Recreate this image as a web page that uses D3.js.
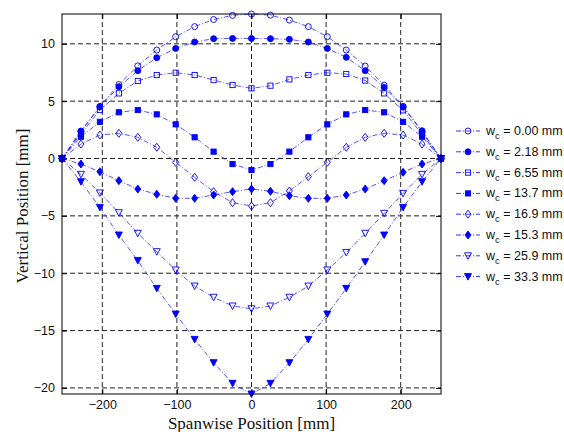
<!DOCTYPE html>
<meta charset="utf-8">
<style>
body { margin: 0; background: #fff; }
text { font-family: "Liberation Sans", Arial, sans-serif; }
.grid line { stroke: #222; stroke-dasharray: 5,3; stroke-width: 1; }
</style>
<svg width="564" height="432"></svg>
<script src="https://cdn.jsdelivr.net/npm/d3@7"></script>
<script>
// spanwise stations (mm)
var spanPos = [-254, -228.6, -203.2, -177.8, -152.4, -127, -101.6, -76.2, -50.8, -25.4, 0,
               25.4, 50.8, 76.2, 101.6, 127, 152.4, 177.8, 203.2, 228.6, 254];

var wc000 = [0, 2.35, 4.55, 6.45, 8.08, 9.46, 10.62, 11.5, 12.12, 12.48, 12.6, 12.5, 12.07, 11.5, 10.62, 9.46, 8.06, 6.4, 4.55, 2.3, 0];
var wc218 = [0, 2.4, 4.5, 6.26, 7.66, 8.79, 9.6, 10.16, 10.45, 10.47, 10.47, 10.45, 10.39, 10.16, 9.6, 8.82, 7.66, 6.2, 4.5, 2.42, 0];
var wc655 = [0, 2.15, 4.23, 5.68, 6.76, 7.28, 7.48, 7.28, 6.84, 6.41, 6.12, 6.35, 6.9, 7.28, 7.48, 7.37, 6.8, 5.68, 4.2, 2.1, 0];
var wc137 = [0, 1.9, 3.2, 4.03, 4.23, 3.85, 2.98, 1.85, 0.6, -0.48, -1.0, -0.48, 0.6, 1.85, 2.98, 3.85, 4.23, 4.03, 3.2, 1.9, 0];
var wc169 = [0, 1.26, 2.05, 2.2, 1.85, 0.98, -0.33, -1.64, -2.89, -3.85, -4.14, -3.85, -2.83, -1.58, -0.33, 0.98, 1.85, 2.2, 2.05, 1.26, 0];
var wc153 = [0, -0.48, -1.15, -1.93, -2.66, -3.12, -3.47, -3.47, -3.18, -2.89, -2.66, -2.86, -3.24, -3.47, -3.47, -3.18, -2.66, -1.93, -1.2, -0.48, 0];
var wc259 = [0, -1.38, -3.0, -4.72, -6.52, -8.12, -9.72, -11.12, -12.1, -12.86, -13.1, -12.86, -12.1, -11.12, -9.72, -8.2, -6.52, -4.78, -3.04, -1.38, 0];
var wc333 = [0, -2.02, -4.26, -6.67, -8.9, -11.32, -13.56, -15.77, -17.8, -19.6, -20.53, -19.6, -17.8, -15.77, -13.56, -11.32, -9.0, -6.67, -4.26, -2.02, 0];

var labels  = ["0.00", "2.18", "6.55", "13.7", "16.9", "15.3", "25.9", "33.3"];
var markers = ["circleOpen", "circle", "squareOpen", "square", "diamondOpen", "diamond", "triOpen", "tri"];
var xTicks = [-200, -100, 0, 100, 200];
var yTicks = [-20, -15, -10, -5, 0, 5, 10];

var allSeries = [wc000, wc218, wc655, wc137, wc169, wc153, wc259, wc333];

var svg = d3.select("svg");
var pL = 62, pR = 441, pT = 14, pB = 394;
var blue = "#0000ff";

var x = d3.scaleLinear().domain([-254, 254]).range([pL, pR]);
var allY = d3.merge(allSeries);
var y = d3.scaleLinear().domain([d3.min(allY), d3.max(allY)]).range([pB, pT]);

// grid
var grid = svg.append("g").attr("class", "grid");
grid.selectAll(".gx").data(xTicks).enter().append("line")
    .attr("x1", d => x(d)).attr("x2", d => x(d)).attr("y1", pT).attr("y2", pB);
grid.selectAll(".gy").data(yTicks).enter().append("line")
    .attr("x1", pL).attr("x2", pR).attr("y1", d => y(d)).attr("y2", d => y(d));

// axes (ticks inside, like matlab)
function minus(v) { return v < 0 ? "\u2212" + Math.abs(v) : "" + v; }
svg.append("g").attr("transform", "translate(0," + pB + ")")
    .call(d3.axisBottom(x).tickValues(xTicks).tickSize(-5).tickPadding(6).tickFormat(minus));
svg.append("g").attr("transform", "translate(" + pL + ",0)")
    .call(d3.axisLeft(y).tickValues(yTicks).tickSize(-5).tickPadding(7).tickFormat(minus));
svg.append("g").attr("transform", "translate(0," + pT + ")")
    .call(d3.axisTop(x).tickValues(xTicks).tickSize(-5).tickFormat(""));
svg.append("g").attr("transform", "translate(" + pR + ",0)")
    .call(d3.axisRight(y).tickValues(yTicks).tickSize(-5).tickFormat(""));
svg.selectAll(".domain").remove();
svg.selectAll(".tick line").attr("stroke", "#000");
svg.selectAll(".tick text").style("font-size", "12.5px").attr("fill", "#111");

// series
var line = d3.line().x((d, i) => x(spanPos[i])).y(d => y(d));

function drawMarker(g, kind, cx, cy) {
  var open = kind.indexOf("Open") > 0;
  var m;
  if (kind.indexOf("circle") == 0) {
    m = g.append("circle").attr("cx", cx).attr("cy", cy).attr("r", 3);
  } else if (kind.indexOf("square") == 0) {
    m = g.append("rect").attr("x", cx - 2.6).attr("y", cy - 2.6).attr("width", 5.2).attr("height", 5.2);
  } else if (kind.indexOf("diamond") == 0) {
    m = g.append("path").attr("d", "M" + cx + "," + (cy - 4) + "L" + (cx + 3) + "," + cy + "L" + cx + "," + (cy + 4) + "L" + (cx - 3) + "," + cy + "Z");
  } else {
    m = g.append("path").attr("d", "M" + (cx - 3.5) + "," + (cy - 3) + "L" + (cx + 3.5) + "," + (cy - 3) + "L" + cx + "," + (cy + 3.5) + "Z");
  }
  m.attr("fill", open ? "none" : blue).attr("stroke", blue).attr("stroke-width", 0.9);
}

allSeries.forEach(function(s, k) {
  var g = svg.append("g");
  g.append("path").datum(s).attr("d", line)
    .attr("fill", "none").attr("stroke", blue).attr("stroke-width", 0.8)
    .attr("stroke-dasharray", "5,2,1,2").attr("opacity", 0.85);
  s.forEach(function(v, i) { drawMarker(g, markers[k], x(spanPos[i]), y(v)); });
});

// box
svg.append("rect").attr("x", pL).attr("y", pT).attr("width", pR - pL).attr("height", pB - pT)
  .attr("fill", "none").attr("stroke", "#000").attr("stroke-width", 1);

// legend
var leg = svg.append("g");
labels.forEach(function(lab, k) {
  var ly = 131 + k * 20.8;
  var row = leg.append("g");
  row.append("line").attr("x1", 456).attr("x2", 480).attr("y1", ly).attr("y2", ly)
    .attr("stroke", blue).attr("stroke-width", 0.8).attr("stroke-dasharray", "5,2,1,2");
  drawMarker(row, markers[k], 468, ly);
  var t = row.append("text").attr("x", 486).attr("y", ly + 4).style("font-size", "12.5px").attr("fill", "#111");
  t.append("tspan").text("w");
  t.append("tspan").attr("dy", 4).style("font-size", "9.5px").text("c");
  t.append("tspan").attr("dy", -4).text(" = " + lab + " mm");
});

// axis labels
svg.append("text").attr("x", (pL + pR) / 2).attr("y", 429).attr("text-anchor", "middle")
  .style("font-family", "'Liberation Serif', 'Times New Roman', serif").style("font-size", "17px").attr("fill", "#111")
  .text("Spanwise Position [mm]");
svg.append("text").attr("transform", "translate(28,206) rotate(-90)").attr("text-anchor", "middle")
  .style("font-family", "'Liberation Serif', 'Times New Roman', serif").style("font-size", "17px").attr("fill", "#111")
  .text("Vertical Position [mm]");
</script>
